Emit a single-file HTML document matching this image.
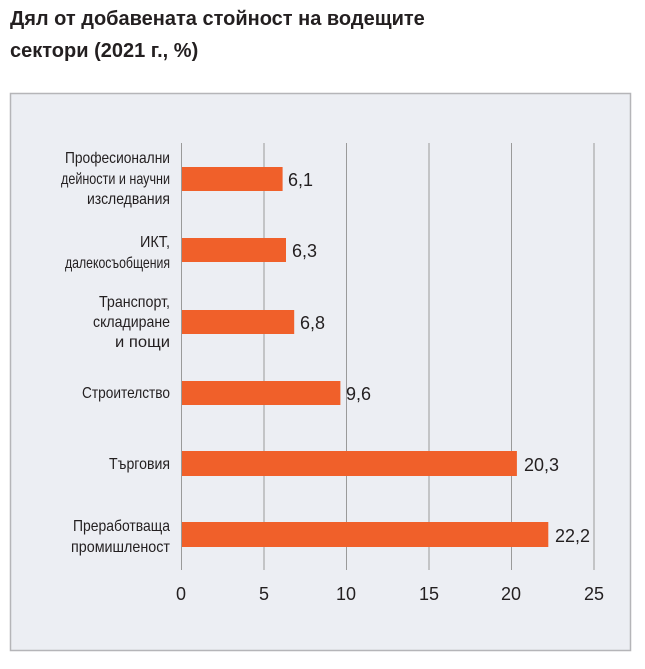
<!DOCTYPE html>
<html><head><meta charset="utf-8"><style>
body{margin:0;width:645px;height:669px;background:#fff;font-family:"Liberation Sans","DejaVu Sans",sans-serif;position:relative;overflow:hidden}
.t{position:absolute;left:10px;font-size:20px;font-weight:bold;color:#231f20;white-space:nowrap}
</style></head><body>
<div class="t" style="top:8px">Дял от добавената стойност на водещите</div>
<div class="t" style="top:40px">сектори (2021 г., %)</div>
<svg width="645" height="669" style="position:absolute;left:0;top:0" font-family="Liberation Sans, sans-serif">
<rect x="10.5" y="93.5" width="620" height="557" fill="#eceef3" stroke="#b5b5b8" stroke-width="1.5"/>
<g stroke="#9a9a9a" stroke-width="1">
<line x1="181.5" y1="143" x2="181.5" y2="570"/>
<line x1="264" y1="143" x2="264" y2="570"/>
<line x1="346.5" y1="143" x2="346.5" y2="570"/>
<line x1="429" y1="143" x2="429" y2="570"/>
<line x1="511.5" y1="143" x2="511.5" y2="570"/>
<line x1="594" y1="143" x2="594" y2="570"/>
</g>
<g fill="#f0602a">
<rect x="182" y="167" width="100.6" height="24"/>
<rect x="182" y="238" width="104" height="24"/>
<rect x="182" y="310" width="112.2" height="24"/>
<rect x="182" y="381" width="158.4" height="24"/>
<rect x="182" y="451" width="334.9" height="25"/>
<rect x="182" y="522" width="366.3" height="25"/>
</g>
<g font-size="18" fill="#231f20">
<text x="288" y="186" textLength="25" lengthAdjust="spacingAndGlyphs">6,1</text>
<text x="292" y="257" textLength="25" lengthAdjust="spacingAndGlyphs">6,3</text>
<text x="300" y="329" textLength="25" lengthAdjust="spacingAndGlyphs">6,8</text>
<text x="346" y="400" textLength="25" lengthAdjust="spacingAndGlyphs">9,6</text>
<text x="524" y="471" textLength="35" lengthAdjust="spacingAndGlyphs">20,3</text>
<text x="555" y="542" textLength="35" lengthAdjust="spacingAndGlyphs">22,2</text>
</g>
<g font-size="18" fill="#231f20" text-anchor="middle">
<text x="181" y="600">0</text>
<text x="264" y="600">5</text>
<text x="346" y="600">10</text>
<text x="429" y="600">15</text>
<text x="511" y="600">20</text>
<text x="594" y="600">25</text>
</g>
<g font-size="16" fill="#231f20" text-anchor="end">
<text x="170" y="163" textLength="105" lengthAdjust="spacingAndGlyphs">Професионални</text>
<text x="170" y="184" textLength="109" lengthAdjust="spacingAndGlyphs">дейности и научни</text>
<text x="170" y="204" textLength="83" lengthAdjust="spacingAndGlyphs">изследвания</text>
<text x="170" y="247" textLength="30" lengthAdjust="spacingAndGlyphs">ИКТ,</text>
<text x="170" y="268" textLength="105" lengthAdjust="spacingAndGlyphs">далекосъобщения</text>
<text x="170" y="307" textLength="71" lengthAdjust="spacingAndGlyphs">Транспорт,</text>
<text x="170" y="327" textLength="77" lengthAdjust="spacingAndGlyphs">складиране</text>
<text x="170" y="347" textLength="55" lengthAdjust="spacingAndGlyphs">и пощи</text>
<text x="170" y="398" textLength="88" lengthAdjust="spacingAndGlyphs">Строителство</text>
<text x="170" y="469" textLength="61" lengthAdjust="spacingAndGlyphs">Търговия</text>
<text x="170" y="531" textLength="97" lengthAdjust="spacingAndGlyphs">Преработваща</text>
<text x="170" y="552" textLength="99" lengthAdjust="spacingAndGlyphs">промишленост</text>
</g>
</svg>
</body></html>
